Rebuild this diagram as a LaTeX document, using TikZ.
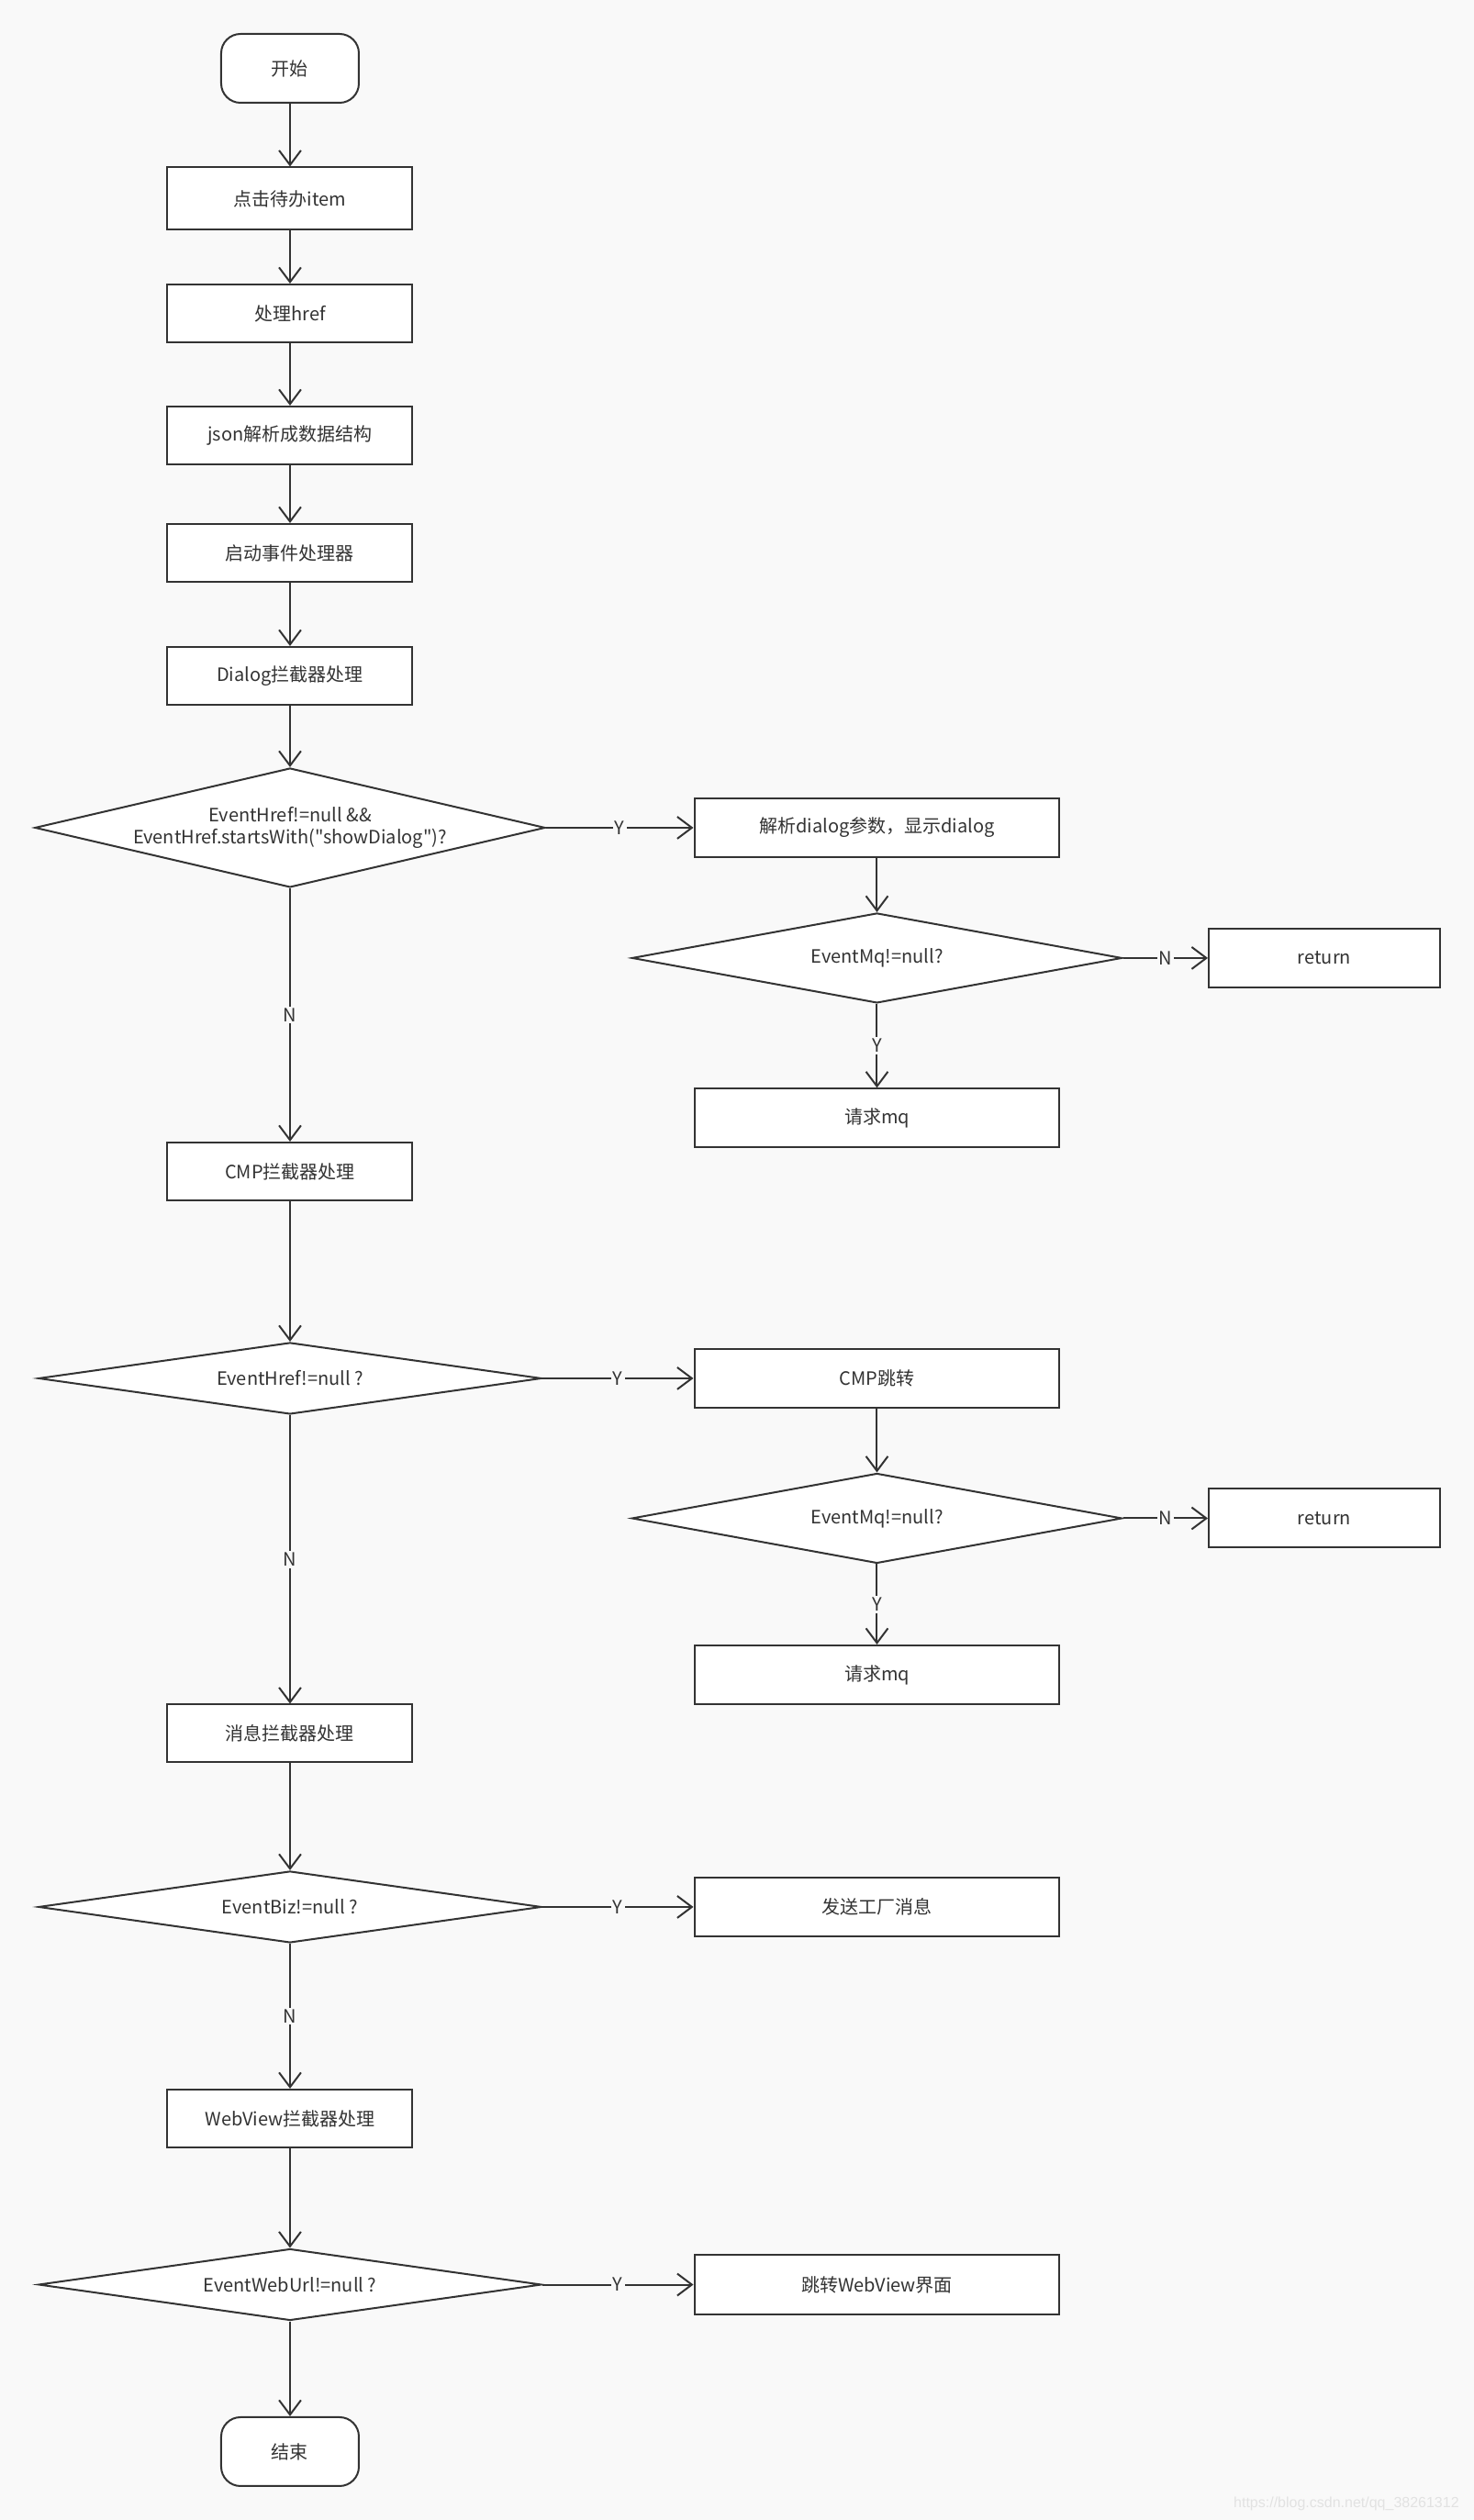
\documentclass[tikz,border=0pt]{standalone}
\usepackage{fontspec}
\setmainfont{Noto Sans CJK SC}[Ligatures=TeXOff]
\newfontfamily\wmfont{Liberation Sans}
\usepackage{xcolor}
\usepackage{tikz}
\usetikzlibrary{shapes,arrows.meta,positioning}
\definecolor{bgc}{RGB}{249,249,249}
\definecolor{ink}{RGB}{51,51,51}
\definecolor{wm}{RGB}{226,226,226}
\tikzset{
  base/.style={draw=ink, fill=white, line width=1pt, text=ink, font=\fontsize{10}{11.7}\selectfont},
  term/.style={base, rectangle, rounded corners=0.37cm, minimum width=2.636cm, minimum height=1.318cm},
  proc/.style={base, rectangle, minimum width=4.692cm, minimum height=1.107cm},
  wide/.style={base, rectangle, minimum width=6.994cm, minimum height=1.125cm},
  ret/.style={base, rectangle, minimum width=4.428cm, minimum height=1.125cm},
  decide/.style={base, diamond, inner sep=0pt, align=center},
  arr/.style={draw=ink, line width=1pt, -{Straight Barb[length=0.28cm,width=0.42cm]}},
  lbl/.style={fill=bgc, text=ink, inner sep=1pt, font=\fontsize{10}{12}\selectfont},
}

\begin{document}
\begin{tikzpicture}
\fill[bgc] (0,0) rectangle (28.222,-48.256);
\useasboundingbox (0,0) rectangle (28.222,-48.256);

\node[term] (start) at (5.553,-1.309) {开始};
\node[proc, below of=start, node distance=2.495cm, minimum height=1.195cm] (click) {点击待办item};
\node[proc, below of=click, node distance=2.197cm] (href) {处理href};
\node[proc, below of=href, node distance=2.337cm] (json) {json解析成数据结构};
\node[proc, below of=json, node distance=2.249cm] (engine) {启动事件处理器};
\node[proc, below of=engine, node distance=2.355cm] (dlg) {Dialog拦截器处理};
\node[decide, below of=dlg, node distance=2.908cm, aspect=4.28, minimum width=9.771cm, minimum height=2.284cm] (qdlg) {EventHref!=null \&\&\\EventHref.startsWith("showDialog")?};
\node[wide, right of=qdlg, node distance=11.238cm] (showdlg) {解析dialog参数，显示dialog};
\node[decide, below of=showdlg, node distance=2.495cm, aspect=5.45, minimum width=9.384cm, minimum height=1.722cm] (qmqa) {EventMq!=null?};
\node[ret, right of=qmqa, node distance=8.567cm] (reta) {return};
\node[wide, below of=qmqa, node distance=3.066cm] (mqa) {请求mq};

\node[proc, below of=qdlg, node distance=6.581cm] (cmp) {CMP拦截器处理};
\node[decide, below of=cmp, node distance=3.963cm, aspect=7.03, minimum width=9.630cm, minimum height=1.371cm] (qcmp) {EventHref!=null ?};
\node[wide, right of=qcmp, node distance=11.238cm] (gocmp) {CMP跳转};
\node[decide, below of=gocmp, node distance=2.680cm, aspect=5.45, minimum width=9.384cm, minimum height=1.722cm] (qmqb) {EventMq!=null?};
\node[ret, right of=qmqb, node distance=8.567cm] (retb) {return};
\node[wide, below of=qmqb, node distance=2.996cm] (mqb) {请求mq};

\node[proc, below of=qcmp, node distance=6.801cm] (msg) {消息拦截器处理};
\node[decide, below of=msg, node distance=3.321cm, aspect=7.03, minimum width=9.630cm, minimum height=1.371cm] (qbiz) {EventBiz!=null ?};
\node[wide, right of=qbiz, node distance=11.238cm] (send) {发送工厂消息};
\node[proc, below of=qbiz, node distance=4.051cm] (web) {WebView拦截器处理};
\node[decide, below of=web, node distance=3.181cm, aspect=7.03, minimum width=9.630cm, minimum height=1.371cm] (qurl) {EventWebUrl!=null ?};
\node[wide, right of=qurl, node distance=11.238cm] (goweb) {跳转WebView界面};
\node[term, below of=qurl, node distance=3.198cm] (end) {结束};

\node[anchor=east, text=wm, font=\wmfont\fontsize{8}{9}\selectfont] (mark) at (28.06,-47.94) {https://blog.csdn.net/qq\_38261312};

\draw[arr] (start) -- (click);
\draw[arr] (click) -- (href);
\draw[arr] (href) -- (json);
\draw[arr] (json) -- (engine);
\draw[arr] (engine) -- (dlg);
\draw[arr] (dlg) -- (qdlg);
\draw[arr] (qdlg) -- node[lbl] {Y} (showdlg);
\draw[arr] (qdlg) -- node[lbl] {N} (cmp);
\draw[arr] (showdlg) -- (qmqa);
\draw[arr] (qmqa) -- node[lbl] {N} (reta);
\draw[arr] (qmqa) -- node[lbl] {Y} (mqa);
\draw[arr] (cmp) -- (qcmp);
\draw[arr] (qcmp) -- node[lbl] {Y} (gocmp);
\draw[arr] (qcmp) -- node[lbl] {N} (msg);
\draw[arr] (gocmp) -- (qmqb);
\draw[arr] (qmqb) -- node[lbl] {N} (retb);
\draw[arr] (qmqb) -- node[lbl] {Y} (mqb);
\draw[arr] (msg) -- (qbiz);
\draw[arr] (qbiz) -- node[lbl] {Y} (send);
\draw[arr] (qbiz) -- node[lbl] {N} (web);
\draw[arr] (web) -- (qurl);
\draw[arr] (qurl) -- node[lbl] {Y} (goweb);
\draw[arr] (qurl) -- (end);
\end{tikzpicture}
\end{document}
